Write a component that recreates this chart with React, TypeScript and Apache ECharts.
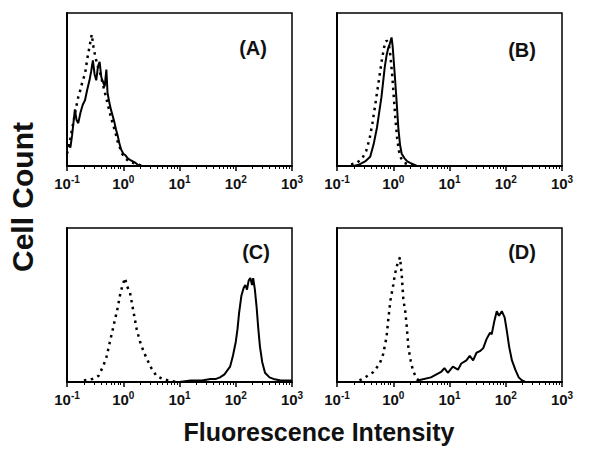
import React, { useEffect, useRef } from "react";
import * as echarts from "echarts";

// x values are log10(fluorescence intensity); y values are fraction of panel height
const tickExponents = [-1, 0, 1, 2, 3];
const minorMultipliers = [2, 3, 4, 5, 6, 7, 8, 9];
const panelLabels = ["(A)", "(B)", "(C)", "(D)"];
const yTitle = "Cell Count";
const xTitle = "Fluorescence Intensity";

const solidA: [number, number][] = [
  [-1.0, 0.12], [-0.97, 0.14], [-0.94, 0.12], [-0.91, 0.2], [-0.88, 0.3], [-0.86, 0.37],
  [-0.83, 0.3], [-0.8, 0.28], [-0.76, 0.35], [-0.72, 0.4], [-0.68, 0.43], [-0.64, 0.5],
  [-0.6, 0.56], [-0.57, 0.62], [-0.54, 0.69], [-0.51, 0.6], [-0.48, 0.56], [-0.45, 0.65],
  [-0.42, 0.68], [-0.39, 0.58], [-0.36, 0.55], [-0.33, 0.52], [-0.3, 0.63], [-0.28, 0.48],
  [-0.25, 0.42], [-0.22, 0.37], [-0.19, 0.33], [-0.16, 0.29], [-0.13, 0.24], [-0.1, 0.2],
  [-0.07, 0.15], [-0.04, 0.11], [0.0, 0.08], [0.04, 0.07], [0.08, 0.05], [0.12, 0.04],
  [0.17, 0.03], [0.22, 0.02], [0.27, 0.005], [0.32, 0], [3, 0],
];
const dottedA: [number, number][] = [
  [-1.0, 0.08], [-0.96, 0.14], [-0.92, 0.22], [-0.88, 0.3], [-0.84, 0.38], [-0.8, 0.45],
  [-0.76, 0.5], [-0.72, 0.56], [-0.68, 0.6], [-0.64, 0.7], [-0.6, 0.78], [-0.56, 0.86],
  [-0.53, 0.78], [-0.5, 0.72], [-0.46, 0.66], [-0.42, 0.62], [-0.38, 0.56], [-0.34, 0.5],
  [-0.3, 0.44], [-0.26, 0.38], [-0.22, 0.32], [-0.18, 0.27], [-0.14, 0.22], [-0.1, 0.16],
  [-0.06, 0.12], [-0.02, 0.08], [0.04, 0.05], [0.1, 0.03], [0.18, 0.02], [0.26, 0.01], [0.34, 0],
];
const solidB: [number, number][] = [
  [-1, 0], [-0.7, 0], [-0.6, 0.01], [-0.5, 0.03], [-0.41, 0.06], [-0.35, 0.14], [-0.29, 0.25],
  [-0.25, 0.35], [-0.21, 0.45], [-0.18, 0.55], [-0.15, 0.65], [-0.12, 0.72], [-0.09, 0.77],
  [-0.06, 0.8], [-0.03, 0.84], [-0.01, 0.78], [0.01, 0.68], [0.03, 0.58], [0.06, 0.42],
  [0.09, 0.25], [0.12, 0.14], [0.15, 0.08], [0.2, 0.05], [0.25, 0.03], [0.3, 0.02],
  [0.36, 0.01], [0.42, 0], [3, 0],
];
const dottedB: [number, number][] = [
  [-0.75, 0.01], [-0.65, 0.02], [-0.55, 0.05], [-0.48, 0.1], [-0.42, 0.18], [-0.37, 0.28],
  [-0.32, 0.4], [-0.28, 0.5], [-0.24, 0.6], [-0.2, 0.7], [-0.16, 0.78], [-0.12, 0.82],
  [-0.08, 0.8], [-0.05, 0.72], [-0.02, 0.6], [0.01, 0.45], [0.04, 0.3], [0.07, 0.18],
  [0.1, 0.1], [0.14, 0.05], [0.2, 0.02], [0.28, 0.01], [0.38, 0],
];
const solidC: [number, number][] = [
  [-1, 0], [1.0, 0], [1.2, 0.01], [1.4, 0.01], [1.55, 0.02], [1.65, 0.02], [1.72, 0.03],
  [1.8, 0.05], [1.86, 0.08], [1.9, 0.1], [1.95, 0.17], [2.0, 0.26], [2.03, 0.34], [2.06, 0.45],
  [2.1, 0.56], [2.14, 0.61], [2.17, 0.63], [2.2, 0.6], [2.23, 0.66], [2.26, 0.675], [2.29, 0.63],
  [2.31, 0.675], [2.34, 0.6], [2.37, 0.49], [2.4, 0.35], [2.43, 0.23], [2.47, 0.13], [2.52, 0.06],
  [2.6, 0.03], [2.67, 0.02], [2.8, 0.01], [3, 0.01],
];
const dottedC: [number, number][] = [
  [-0.7, 0.01], [-0.55, 0.02], [-0.44, 0.04], [-0.36, 0.1], [-0.3, 0.16], [-0.25, 0.24],
  [-0.2, 0.32], [-0.15, 0.4], [-0.1, 0.48], [-0.06, 0.56], [-0.02, 0.62], [0.03, 0.675],
  [0.07, 0.62], [0.12, 0.58], [0.16, 0.5], [0.2, 0.42], [0.24, 0.34], [0.3, 0.26], [0.36, 0.2],
  [0.42, 0.15], [0.5, 0.09], [0.59, 0.04], [0.7, 0.02], [0.8, 0.01], [0.95, 0],
];
const solidD: [number, number][] = [
  [-1, 0], [0.4, 0], [0.49, 0.015], [0.67, 0.03], [0.85, 0.065], [0.91, 0.09], [0.97, 0.06],
  [1.06, 0.1], [1.15, 0.08], [1.21, 0.12], [1.3, 0.14], [1.36, 0.17], [1.42, 0.14], [1.48, 0.19],
  [1.54, 0.2], [1.6, 0.22], [1.66, 0.28], [1.72, 0.32], [1.75, 0.31], [1.8, 0.4], [1.84, 0.46],
  [1.88, 0.43], [1.93, 0.46], [1.98, 0.42], [2.02, 0.33], [2.06, 0.23], [2.11, 0.14],
  [2.17, 0.08], [2.23, 0.03], [2.29, 0.01], [2.35, 0], [3, 0],
];
const dottedD: [number, number][] = [
  [-0.6, 0.01], [-0.5, 0.03], [-0.35, 0.065], [-0.24, 0.12], [-0.18, 0.18], [-0.12, 0.29],
  [-0.09, 0.4], [-0.05, 0.53], [0.0, 0.63], [0.03, 0.7], [0.07, 0.76], [0.12, 0.81],
  [0.15, 0.7], [0.18, 0.53], [0.21, 0.47], [0.24, 0.36], [0.27, 0.22], [0.31, 0.14],
  [0.35, 0.075], [0.42, 0.02], [0.5, 0],
];

const solidSeries = [solidA, solidB, solidC, solidD];
const dottedSeries = [dottedA, dottedB, dottedC, dottedD];

const FONT = "Liberation Sans, Arial, sans-serif";

export default function App() {
  const ref = useRef<HTMLDivElement>(null);
  useEffect(() => {
    document.body.style.margin = "0";
    if (!ref.current) return;
    const chart = echarts.init(ref.current, undefined, { renderer: "svg" });

    const grids = [
      { left: 67, top: 13, width: 225, height: 153 },
      { left: 337, top: 13, width: 225, height: 153 },
      { left: 67, top: 228, width: 225, height: 154 },
      { left: 337, top: 228, width: 225, height: 154 },
    ];
    const labelPos = [
      [253, 48],
      [522, 50],
      [256, 252],
      [522, 252],
    ];

    const minorTicks: number[] = [];
    tickExponents.slice(0, -1).forEach((e) => {
      minorMultipliers.forEach((m) => minorTicks.push(e + Math.log10(m)));
    });

    const xAxes: any[] = [];
    const yAxes: any[] = [];
    const series: any[] = [];
    grids.forEach((_, i) => {
      xAxes.push({
        gridIndex: i,
        type: "value",
        position: "bottom",
        min: -1,
        max: 3,
        interval: 1,
        axisLine: { show: true, onZero: false, lineStyle: { color: "#000", width: 2 } },
        axisTick: { show: true, length: 5, lineStyle: { color: "#000", width: 1.5 } },
        splitLine: { show: false },
        axisLabel: {
          show: true,
          margin: 8,
          fontSize: 15,
          fontWeight: "bold",
          fontFamily: FONT,
          color: "#111",
          formatter: (v: number) => "{base|10}{sup|" + v + "}",
          rich: {
            base: { fontSize: 15, fontWeight: "bold", fontFamily: FONT, color: "#111" },
            sup: { fontSize: 10, fontWeight: "bold", fontFamily: FONT, color: "#111", padding: [0, 0, 9, 0] },
          },
        },
      });
      xAxes.push({
        gridIndex: i,
        type: "value",
        position: "bottom",
        min: -1,
        max: 3,
        axisLine: { show: false, onZero: false },
        axisTick: { show: true, length: 3, customValues: minorTicks, lineStyle: { color: "#000", width: 1 } },
        axisLabel: { show: false },
        splitLine: { show: false },
      });
      yAxes.push({
        gridIndex: i,
        type: "value",
        min: 0,
        max: 1,
        axisLine: { show: true, onZero: false, lineStyle: { color: "#000", width: 2 } },
        axisTick: { show: false },
        axisLabel: { show: false },
        splitLine: { show: false },
      });
      series.push({
        type: "line",
        xAxisIndex: 2 * i,
        yAxisIndex: i,
        data: dottedSeries[i],
        symbol: "none",
        lineStyle: { color: "#000", width: 2.5, type: [2.5, 4.5] },
        z: 2,
      });
      series.push({
        type: "line",
        xAxisIndex: 2 * i,
        yAxisIndex: i,
        data: solidSeries[i],
        symbol: "none",
        lineStyle: { color: "#000", width: 2 },
        z: 3,
      });
    });

    const graphics: any[] = panelLabels.map((t, i) => ({
      type: "text",
      x: labelPos[i][0],
      y: labelPos[i][1],
      style: { text: t, fontSize: 20, fontWeight: "bold", fontFamily: FONT, fill: "#111", align: "center", verticalAlign: "middle" },
    }));
    graphics.push({
      type: "text",
      x: 22,
      y: 197,
      rotation: Math.PI / 2,
      style: { text: yTitle, fontSize: 30, fontWeight: "bold", fontFamily: FONT, fill: "#111", align: "center", verticalAlign: "middle" },
    });
    graphics.push({
      type: "text",
      x: 319,
      y: 432,
      style: { text: xTitle, fontSize: 25, fontWeight: "bold", fontFamily: FONT, fill: "#111", align: "center", verticalAlign: "middle" },
    });

    chart.setOption({
      animation: false,
      backgroundColor: "#fff",
      textStyle: { fontFamily: FONT },
      grid: grids.map((g) => ({ ...g, show: true, borderColor: "#000", borderWidth: 1.5, backgroundColor: "transparent" })),
      xAxis: xAxes,
      yAxis: yAxes,
      series,
      graphic: graphics,
    });
    return () => chart.dispose();
  }, []);
  return <div ref={ref} style={{ width: 600, height: 449, position: "absolute", left: 0, top: 0 }} />;
}
